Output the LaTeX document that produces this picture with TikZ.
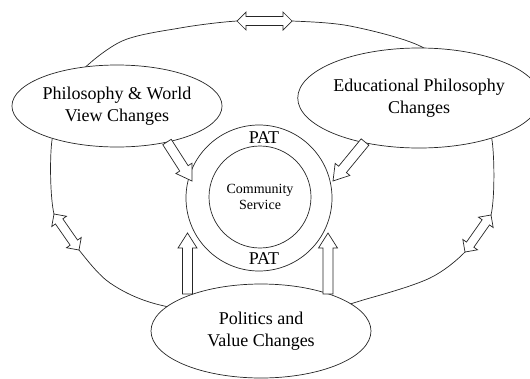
\documentclass[tikz,border=0pt]{standalone}
\usepackage{fontspec}
\setmainfont{Liberation Serif}
\usetikzlibrary{calc,shapes.geometric}
\colorlet{inkcol}{black!85}

\tikzset{
  bubble/.style={draw=inkcol, ellipse, fill=white, inner sep=0pt, align=center,
    text=black, font=\fontsize{18}{22}\selectfont},
  blockline/.style={draw=inkcol, fill=white, line width=0.7pt, line join=miter},
}

% hollow one-way arrow, from #1 to #2
\newcommand\blockarrow[2]{%
  \draw[blockline] ($(#1)!5pt!90:(#2)$)
    -- ($(#2)!15pt!(#1)!5pt!90:(#2)$) -- ($(#2)!15pt!(#1)!9.5pt!90:(#2)$)
    -- (#2)
    -- ($(#2)!15pt!(#1)!9.5pt!-90:(#2)$) -- ($(#2)!15pt!(#1)!5pt!-90:(#2)$)
    -- ($(#1)!5pt!-90:(#2)$) -- cycle;
}
% hollow two-way arrow between #1 and #2
\newcommand\twowayarrow[2]{%
  \draw[blockline] (#1)
    -- ($(#1)!9pt!(#2)!9pt!90:(#2)$) -- ($(#1)!9pt!(#2)!4.5pt!90:(#2)$)
    -- ($(#2)!9pt!(#1)!4.5pt!90:(#2)$) -- ($(#2)!9pt!(#1)!9pt!90:(#2)$)
    -- (#2)
    -- ($(#2)!9pt!(#1)!9pt!-90:(#2)$) -- ($(#2)!9pt!(#1)!4.5pt!-90:(#2)$)
    -- ($(#1)!9pt!(#2)!4.5pt!-90:(#2)$) -- ($(#1)!9pt!(#2)!9pt!-90:(#2)$)
    -- cycle;
}

\begin{document}
\begin{tikzpicture}[x=1pt, y=-1pt, line width=0.7pt]
  \useasboundingbox (0,0) rectangle (530,378);

  % ends of the two-way arrows on the big loop
  \coordinate (ta) at (237,21);
  \coordinate (tb) at (292,21);
  \coordinate (ra) at (491,215);
  \coordinate (rb) at (465,252);
  \coordinate (la) at (79,250);
  \coordinate (lb) at (54,214);

  % the big loop round everything
  \draw[inkcol] plot[smooth cycle] coordinates {
    (120,42) (180,28) (ta) (tb) (350,26) (420,46) (472,85) (492,140)
    (ra) (rb) (430,278) (370,298) (272,322) (160,305) (110,283)
    (la) (lb) (52,140) (72,82)};

  % the three changes
  \node[bubble, minimum width=208pt, minimum height=82pt] (phil) at (117,106)
    {Philosophy \& World\\View Changes};
  \node[bubble, minimum width=210pt, minimum height=100pt] (edu) at (419,98)
    {Educational Philosophy\\Changes};
  \node[bubble, minimum width=220pt, minimum height=94pt] (pol) at (261,331)
    {Politics and\\Value Changes};

  % PAT ring and community service
  \node[circle, draw=inkcol, minimum size=146pt] (ring) at (259,198) {};
  \node[circle, draw=inkcol, minimum size=102pt, align=center,
    font=\fontsize{14}{16}\selectfont] (core) at (260,197) {Community\\Service};
  \node[font=\fontsize{18}{22}\selectfont] (patup) at (264,138) {PAT};
  \node[font=\fontsize{18}{22}\selectfont] (patdown) at (264,259) {PAT};

  % arrows into the ring
  \coordinate (p1) at (167,142);
  \coordinate (p2) at (192,181);
  \coordinate (e1) at (365,142);
  \coordinate (e2) at (333,181);
  \coordinate (v1) at (187.5,294);
  \coordinate (v2) at (187.5,233);
  \coordinate (w1) at (328,294);
  \coordinate (w2) at (328,233);
  \blockarrow{p1}{p2}
  \blockarrow{e1}{e2}
  \blockarrow{v1}{v2}
  \blockarrow{w1}{w2}

  % two-way arrows on the loop
  \twowayarrow{ta}{tb}
  \twowayarrow{ra}{rb}
  \twowayarrow{la}{lb}
\end{tikzpicture}
\end{document}
